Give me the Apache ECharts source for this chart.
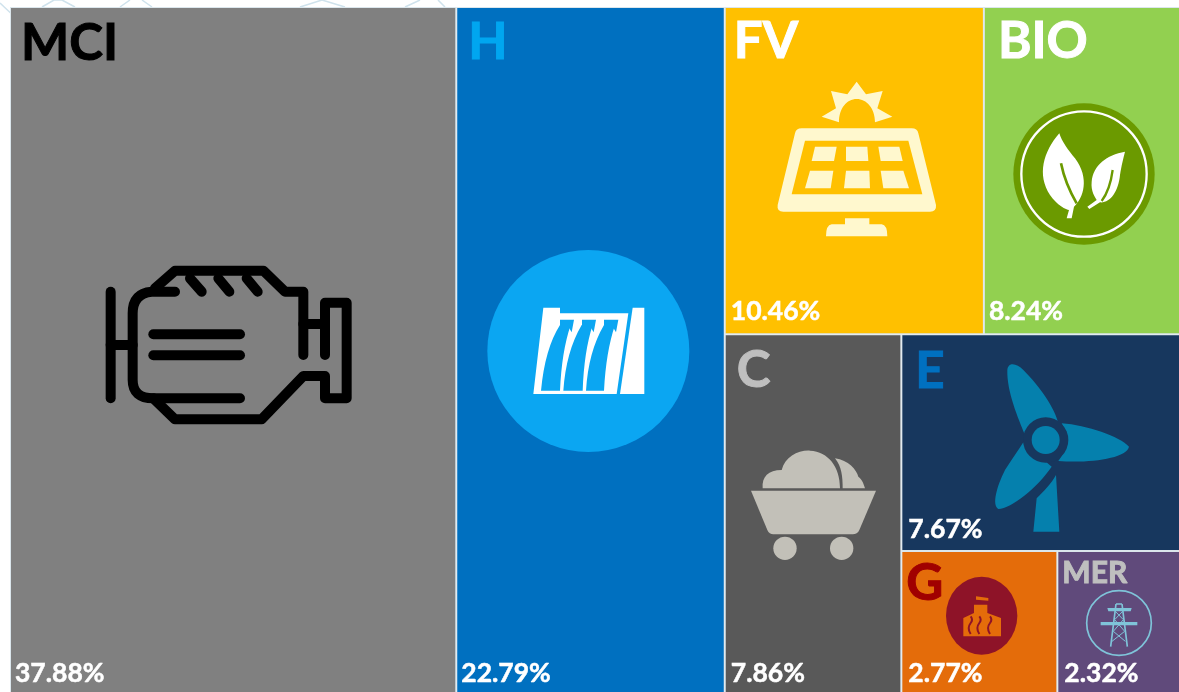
<!DOCTYPE html>
<html>
<head>
<meta charset="utf-8">
<style>html,body{margin:0;padding:0;background:#fff}#c{width:1179px;height:692px}</style>
<script src="https://cdn.jsdelivr.net/npm/echarts@6/dist/echarts.min.js"></script>
</head>
<body>
<div id="c"></div>
<script>
const categories = ['MCI', 'H', 'FV', 'BIO', 'C', 'E', 'G', 'MER'];
const values = [37.88, 22.79, 10.46, 8.24, 7.86, 7.67, 2.77, 2.32];

const fills = { MCI:'#808080', H:'#0070C0', FV:'#FFC000', BIO:'#92D050', C:'#595959', E:'#17375E', G:'#E46C0A', MER:'#604A7B' };
const nameColors = { MCI:'#000000', H:'#00A6F0', FV:'#FFFFFF', BIO:'#FFFFFF', C:'#BFBFBF', E:'#0070C0', G:'#A00000', MER:'#BFBFBF' };
const nameSizes = { MER:30 };
const nameOffsets = { MCI:[5,5], H:[6,4], FV:[3,3], BIO:[8,3], C:[6,5], E:[8,6], G:[-1,1], MER:[-1,1] };
const pctOffsets = { MCI:[0,-3], H:[0,-3], FV:[1,-4], BIO:[0,-4], C:[1,-3], E:[2,-3], G:[2,-3], MER:[2,-3] };
const CLEAR = 'rgba(0,0,0,0)';

function leaf(i, second) {
  const n = categories[i];
  return second ? {
    name: n, value: values[i],
    itemStyle: { color:CLEAR, borderColor:CLEAR, borderWidth:0 },
    label: { show:true, position:'insideBottomLeft', distance:0, offset:pctOffsets[n], color:'#fff', fontFamily:'Lato', fontWeight:'bold', fontSize:26.5,
      textBorderColor:'#fff', textBorderWidth:0.5,
      formatter: p => p.value.toFixed(2) + '%' }
  } : {
    name: n, value: values[i],
    itemStyle: { color:fills[n], borderColor:'#dbe6ec', borderWidth:1 },
    label: { show:true, position:'insideTopLeft', distance:0, offset:nameOffsets[n], color:nameColors[n], fontFamily:'Lato', fontWeight:'bold', fontSize:nameSizes[n] || 51, overflow:'none',
      textBorderColor:nameColors[n], textBorderWidth:1 }
  };
}
function group(children) {
  return { itemStyle:{ borderWidth:0, gapWidth:0, color:CLEAR, borderColor:CLEAR }, children };
}
function tree(second) {
  const l = i => leaf(i, second);
  return [ l(0), l(1), group([
    group([l(2), l(3)]),
    group([l(4), group([l(5), group([l(6), l(7)])])])
  ]) ];
}
function treemapSeries(second) {
  return {
    type:'treemap', left:10, top:7, width:1178, height:688,
    sort:false, squareRatio:1, roam:false, nodeClick:false, silent:second,
    breadcrumb:{ show:false }, animation:false, visibleMin:0, childrenVisibleMin:0,
    z: second ? 20 : 2,
    upperLabel:{ show:false },
    itemStyle:{ gapWidth:0, borderWidth:0, borderColor:CLEAR },
    data: tree(second)
  };
}

function icon(x, y, children) {
  return { type:'group', x, y, scaleX:1/3, scaleY:1/3, children };
}
const P = (d, style) => ({ type:'path', shape:{ pathData:d }, style });
const C = (cx, cy, r, style) => ({ type:'circle', shape:{ cx, cy, r }, style });

const engine = { fill:'none', stroke:'#000', lineWidth:30, lineCap:'round', lineJoin:'round' };
const engineIcon = icon(90, 250, [
  'M62 125 L62 445', 'M62 285 L128 285',
  'M255 125 L185 125 Q128 130 128 190 L128 390 Q128 445 190 445 L450 445',
  'M195 115 L255 62 L520 62 L585 125 L640 125 L640 315',
  'M300 85 L335 125', 'M385 85 L418 125', 'M470 85 L503 125',
  'M190 253 L450 253', 'M190 316 L450 316', 'M640 222 L705 222',
  'M705 315 L705 158 L770 158 L770 445 L705 445 L705 378 L640 378 L515 508 L255 508 L190 445'
].map(d => P(d, engine)));

const W = { fill:'#fff' }, HB = { fill:'#0BA6F2' };
const hydroIcon = icon(480, 245, [
  C(325, 318, 303, HB),
  P('M190 188 L240 188 L240 205 L445 205 L410 447 L160 447Z', W),
  P('M458 188 L493 188 L493 447 L420 447Z', W),
  P('M183 437 Q195 310 240 240 L272 240 Q245 320 240 437Z', HB),
  P('M250 437 Q258 320 305 240 L338 240 Q312 320 308 437Z', HB),
  P('M318 437 Q325 320 372 240 L405 240 Q378 320 372 437Z', HB),
  P('M240 224 L282 224 L275 262 L262 240 L240 240Z', HB),
  P('M306 224 L348 224 L341 262 L328 240 L306 240Z', HB),
  P('M372 224 L415 224 L408 262 L395 240 L372 240Z', HB)
]);

const CR = { fill:'#FFF8CE' }, YL = { fill:'#FFC000' };
const solarIcon = icon(760, 75, [
  P('M237 142 L185 125 L228 100 L213 48 L262 58 L290 20 L318 58 L368 48 L352 100 L397 125 L345 142 C345 100 320 72 290 72 C260 72 237 100 237 142Z', CR),
  P('M125 160 L455 160 Q472 160 475 175 L528 390 Q530 410 510 410 L70 410 Q50 410 53 390 L105 175 Q108 160 125 160Z', CR),
  P('M135 197 L445 197 L487 358 L95 358Z', YL),
  P('M165 215 L230 215 L222 258 L155 258Z', CR), P('M258 215 L322 215 L325 258 L258 258Z', CR), P('M355 215 L418 215 L428 258 L362 258Z', CR),
  P('M150 287 L220 287 L212 340 L135 340Z', CR), P('M258 287 L328 287 L330 340 L252 340Z', CR), P('M362 287 L430 287 L447 340 L370 340Z', CR),
  P('M255 430 L328 430 L328 448 L365 448 Q382 450 382 484 L198 484 Q198 450 215 448 L255 448Z', CR)
]);

const GR = '#6B9A00';
const bioIcon = icon(1000, 95, [
  C(252, 237, 212, { fill:GR }),
  C(252, 237, 188, { fill:'none', stroke:'#fff', lineWidth:7 }),
  P('M178 115 C130 170 110 240 150 300 C170 330 200 345 207 345 L200 370 L215 370 L222 335 C250 310 270 250 225 190 C205 165 185 140 178 115Z', W),
  P('M183 205 Q195 265 230 325', { fill:'none', stroke:GR, lineWidth:8 }),
  P('M375 170 C320 180 280 210 275 260 C272 290 285 305 290 315 L262 335 L268 342 L300 322 C330 325 355 290 360 240 C365 210 370 190 375 170Z', W),
  P('M338 225 Q330 285 305 318', { fill:'none', stroke:GR, lineWidth:7 })
]);

const CO = { fill:'#C2C0B8' };
const coalIcon = icon(740, 440, [
  P('M68 145 C65 110 85 90 125 90 C135 50 175 30 210 32 C265 35 300 80 300 145Z', CO),
  P('M285 55 C325 60 350 90 355 110 C368 120 372 135 375 145 L308 145 C308 110 305 80 285 55Z', CO),
  P('M33 152 L408 152 L358 270 Q352 283 338 283 L100 283 Q88 283 82 270Z', CO),
  C(135, 325, 35, CO), C(305, 325, 35, CO)
]);

const BL = { fill:'#0580AD' };
const windIcon = icon(980, 355, [
  P('M228 360 L238 530 L160 530 L170 430 C190 410 215 385 228 360Z', BL),
  P('M82 45 C85 20 110 25 130 45 C180 95 225 160 235 205 L135 240 C115 190 80 110 82 45Z', BL),
  P('M245 205 C320 210 420 245 447 275 C440 310 330 325 235 318 C260 290 265 240 245 205Z', BL),
  P('M130 262 L215 335 C170 400 95 460 55 462 C35 450 50 395 75 345 C95 315 115 285 130 262Z', BL),
  C(197, 255, 68, { fill:'#17375E' }),
  C(197, 255, 42, BL)
]);

const DR = '#8E1328', OR = '#E46C0A';
const geoIcon = icon(900, 548, [
  P('M138 203 A107 117 0 1 0 352 203 A107 117 0 1 0 138 203Z', { fill:DR }),
  P('M190 265 L190 210 L222 195 L222 170 L262 170 L262 195 L303 210 L303 265Z', { fill:OR }),
  P('M228 145 L265 150 L265 158 L228 155Z', { fill:OR }),
  ...['M212 258 Q200 240 212 225 Q220 215 212 205', 'M238 258 Q226 240 238 225 Q246 215 238 205', 'M270 258 Q258 240 270 225 Q278 215 270 205']
    .map(d => P(d, { fill:'none', stroke:DR, lineWidth:6 }))
]);

const TW = { fill:'none', stroke:'#7FC4D9', lineWidth:5 };
const merIcon = icon(900, 548, [
  C(657, 225, 97, TW),
  P('M622 180 L695 180 L692 190 L625 190Z', { fill:'#7FC4D9' }),
  P('M602 222 L712 222 L712 232 L602 232Z', { fill:'#7FC4D9' }),
  P('M648 168 L632 296 M666 168 L682 296 M648 168 L666 168', TW),
  P('M646 190 L670 215 L640 250 L676 280 M668 190 L644 215 L674 250 L636 280', { fill:'none', stroke:'#7FC4D9', lineWidth:3 })
]);

const faint = { fill:'none', stroke:'#cfe2ec', lineWidth:1.5 };
const backdrop = { type:'group', children:[
  'M0 3 L18 20', 'M42 7 L54 0 L62 0 L75 7', 'M120 7 L130 0', 'M142 0 L152 7', 'M300 7 L322 0', 'M322 0 L345 7',
  'M405 7 L420 0', 'M438 0 L445 7'
].map(d => P(d, faint)) };

function decoration(children, z) {
  return { type:'custom', coordinateSystem:'none', silent:true, animation:false, clip:false, z, data:[0],
    renderItem: () => ({ type:'group', children }) };
}

const chart = echarts.init(document.getElementById('c'), null, { renderer:'canvas' });
chart.setOption({
  animation:false,
  backgroundColor:'#fff',
  tooltip:{ show:false },
  series:[
    decoration([backdrop], 0),
    treemapSeries(false),
    decoration([engineIcon, hydroIcon, solarIcon, bioIcon, coalIcon, windIcon, geoIcon, merIcon], 10),
    treemapSeries(true)
  ]
});
</script>
</body>
</html>
